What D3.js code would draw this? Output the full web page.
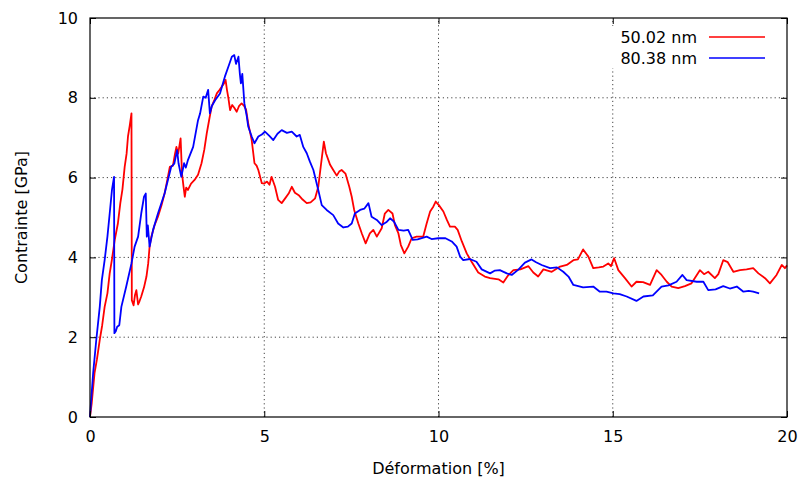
<!DOCTYPE html>
<html>
<head>
<meta charset="utf-8">
<script src="https://cdnjs.cloudflare.com/ajax/libs/d3/7.8.5/d3.min.js"></script>
<style>
    body { margin: 0; background: #fff; }
    svg { display: block; font-family: "DejaVu Sans", sans-serif; }
    .grid line { stroke: #444; stroke-width: 1; stroke-dasharray: 1.2, 3; }
</style>
</head>
<body>
<div id="chart"></div>
<script>
// strain [%] / stress [GPa]
var strain_50 = [0, 0.05, 0.13, 0.2, 0.28, 0.35, 0.42, 0.5, 0.565, 0.63, 0.71, 0.8, 0.87, 0.93, 0.995, 1.05, 1.09, 1.14, 1.19,
    1.2, 1.25, 1.29, 1.33, 1.38, 1.42, 1.47, 1.55, 1.62, 1.67, 1.71, 1.76, 1.85, 1.95, 2.05, 2.14, 2.22, 2.29, 2.38, 2.44, 2.48,
    2.53, 2.6, 2.64, 2.68, 2.72, 2.76, 2.81, 2.9, 3.0, 3.1, 3.2, 3.28, 3.35, 3.42, 3.49, 3.57, 3.64, 3.72, 3.78, 3.84, 3.89,
    3.93, 3.97, 4.02, 4.08, 4.14, 4.21, 4.28, 4.35, 4.42, 4.48, 4.54, 4.64, 4.72, 4.78, 4.83, 4.93, 5.0, 5.08, 5.15, 5.21,
    5.31, 5.4, 5.5, 5.6, 5.7, 5.79, 5.88, 6.0, 6.1, 6.22, 6.33, 6.46, 6.55, 6.62, 6.71, 6.77, 6.89, 6.98, 7.08, 7.15, 7.22,
    7.33, 7.44, 7.51, 7.58, 7.7, 7.8, 7.91, 8.03, 8.13, 8.23, 8.37, 8.46, 8.56, 8.68, 8.75, 8.85, 8.92, 9.02, 9.13, 9.23,
    9.37, 9.56, 9.66, 9.76, 9.85, 9.92, 10.01, 10.14, 10.24, 10.33, 10.47, 10.55, 10.67, 10.81, 10.95, 11.14, 11.33, 11.48,
    11.72, 11.86, 12.0, 12.15, 12.35, 12.58, 12.72, 12.86, 13.01, 13.25, 13.49, 13.68, 13.87, 14.0, 14.15, 14.3, 14.44, 14.6,
    14.73, 14.87, 14.95, 15.04, 15.16, 15.35, 15.54, 15.68, 15.87, 16.07, 16.26, 16.4, 16.55, 16.69, 16.88, 17.07, 17.26,
    17.5, 17.62, 17.74, 17.93, 18.03, 18.17, 18.3, 18.46, 18.65, 18.84, 19.03, 19.18, 19.37, 19.51, 19.7, 19.85, 19.94, 20.0];
var stress_50 = [0, 0.35, 1.1, 1.45, 1.93, 2.3, 2.76, 3.1, 3.6, 3.95, 4.44, 4.85, 5.36, 5.7, 6.27, 6.6, 7.03, 7.3, 7.61,
    2.93, 2.8, 3.05, 3.18, 2.82, 2.9, 3.02, 3.25, 3.52, 3.85, 4.27, 4.52, 4.8, 5.02, 5.3, 5.6, 5.95, 6.27, 6.3, 6.6, 6.77,
    6.6, 6.98, 6.1, 5.8, 5.52, 5.75, 5.69, 5.85, 5.94, 6.07, 6.36, 6.7, 7.11, 7.45, 7.78, 7.95, 8.11, 8.2, 8.28, 8.35, 8.45,
    8.2, 8.0, 7.69, 7.82, 7.75, 7.65, 7.8, 7.86, 7.8, 7.7, 7.36, 6.94, 6.36, 6.3, 6.19, 5.86, 5.85, 5.9, 5.82, 6.02,
    5.77, 5.44, 5.36, 5.48, 5.6, 5.77, 5.62, 5.55, 5.45, 5.36, 5.38, 5.48, 5.77, 6.27, 6.9, 6.61, 6.32, 6.19, 6.05, 6.15, 6.19,
    6.1, 5.77, 5.52, 5.19, 4.85, 4.6, 4.35, 4.6, 4.69, 4.52, 4.73, 5.1, 5.19, 5.1, 4.81, 4.6, 4.31, 4.1, 4.27, 4.48,
    4.52, 4.52, 4.85, 5.15, 5.27, 5.4, 5.31, 5.15, 4.94, 4.77, 4.77, 4.69, 4.4, 4.1, 3.89, 3.62, 3.52, 3.48,
    3.45, 3.37, 3.55, 3.68, 3.7, 3.78, 3.62, 3.52, 3.7, 3.64, 3.77, 3.81, 3.93, 3.95, 4.2, 4.02, 3.73, 3.75,
    3.77, 3.85, 3.78, 3.98, 3.68, 3.48, 3.27, 3.39, 3.38, 3.31, 3.68, 3.56, 3.39, 3.27, 3.23, 3.28, 3.35,
    3.68, 3.58, 3.64, 3.48, 3.58, 3.93, 3.88, 3.64, 3.68, 3.7, 3.73, 3.6, 3.48, 3.35, 3.56, 3.81, 3.73, 3.8];

var strain_80 = [0, 0.04, 0.09, 0.18, 0.28, 0.34, 0.42, 0.5, 0.565, 0.63, 0.69, 0.7, 0.74, 0.78, 0.84, 0.9, 1.04, 1.19,
    1.28, 1.38, 1.47, 1.55, 1.6, 1.63, 1.66, 1.71, 1.81, 1.95, 2.14, 2.33, 2.42, 2.5, 2.54, 2.62, 2.7, 2.75, 2.81, 2.96,
    3.1, 3.16, 3.25, 3.32, 3.39, 3.44, 3.5, 3.59, 3.73, 3.87, 3.97, 4.07, 4.14, 4.19, 4.26, 4.3, 4.33, 4.37, 4.43, 4.5,
    4.54, 4.64, 4.72, 4.83, 4.93, 5.02, 5.14, 5.26, 5.38, 5.5, 5.65, 5.79, 5.93, 6.02, 6.12, 6.22, 6.31, 6.41, 6.48, 6.55,
    6.65, 6.79, 6.98, 7.12, 7.27, 7.4, 7.51, 7.6, 7.75, 7.87, 7.99, 8.08, 8.23, 8.37, 8.5, 8.61, 8.72, 8.85, 9.0, 9.13,
    9.26, 9.4, 9.66, 9.8, 9.99, 10.2, 10.38, 10.52, 10.62, 10.71, 10.9, 11.09, 11.24, 11.48, 11.62, 11.76, 11.96, 12.1,
    12.3, 12.48, 12.67, 12.8, 12.96, 13.2, 13.4, 13.58, 13.73, 13.87, 14.15, 14.44, 14.63, 14.82, 15.02, 15.2, 15.4, 15.68,
    15.88, 16.15, 16.4, 16.6, 16.83, 17.0, 17.12, 17.41, 17.6, 17.74, 17.95, 18.17, 18.36, 18.56, 18.75, 18.9, 19.03, 19.2];
var stress_80 = [0, 0.5, 1.1, 1.93, 2.76, 3.43, 3.93, 4.52, 5.1, 5.69, 6.02, 2.1, 2.15, 2.26, 2.3, 2.76, 3.27, 3.85,
    4.27, 4.52, 5.1, 5.52, 5.6, 4.52, 4.8, 4.27, 4.69, 5.1, 5.6, 6.27, 6.35, 6.69, 6.36, 6.02, 6.36, 6.25, 6.44, 6.77,
    7.44, 7.61, 8.03, 8.0, 8.2, 7.61, 7.8, 7.94, 8.11, 8.53, 8.78, 9.03, 9.07, 8.85, 9.03, 8.6, 8.36, 8.6, 7.86, 7.53,
    7.28, 7.03, 6.86, 7.03, 7.08, 7.15, 7.05, 6.94, 7.1, 7.19, 7.12, 7.15, 7.03, 7.07, 6.77, 6.61, 6.4, 6.19, 5.94, 5.69,
    5.31, 5.19, 5.06, 4.85, 4.75, 4.77, 4.85, 5.1, 5.19, 5.22, 5.36, 5.02, 4.94, 4.81, 4.88, 4.98, 4.9, 4.69, 4.67, 4.69,
    4.44, 4.45, 4.52, 4.46, 4.48, 4.48, 4.4, 4.27, 4.02, 3.93, 3.96, 3.89, 3.7, 3.6, 3.67, 3.68, 3.6, 3.56,
    3.7, 3.87, 3.95, 3.88, 3.81, 3.73, 3.75, 3.64, 3.52, 3.31, 3.25, 3.27, 3.14, 3.14, 3.1, 3.08, 3.02, 2.91,
    3.02, 3.05, 3.27, 3.3, 3.39, 3.56, 3.43, 3.39, 3.39, 3.18, 3.2, 3.28, 3.22, 3.27, 3.14, 3.16, 3.14, 3.1];

var series_names = ["50.02 nm", "80.38 nm"];
var series_colors = ["#ff0000", "#0000ff"];
var x_ticks = [0, 5, 10, 15, 20];
var y_ticks = [0, 2, 4, 6, 8, 10];

function draw_stress_strain() {
    var width = 803;
    var height = 482;
    var margin = { top: 18, right: 16, bottom: 65, left: 90 };

    var series = [
        { name: series_names[0], color: series_colors[0], values: strain_50.map(function(d, i) { return [d, stress_50[i]]; }) },
        { name: series_names[1], color: series_colors[1], values: strain_80.map(function(d, i) { return [d, stress_80[i]]; }) }
    ];

    var x = d3.scaleLinear().domain([0, 20]).range([margin.left, width - margin.right]);
    var y = d3.scaleLinear().domain([0, 10]).range([height - margin.bottom, margin.top]);

    var svg = d3.select("#chart")
        .append("svg")
        .attr("width", width)
        .attr("height", height);

    // dotted grid at inner ticks
    var grid = svg.append("g").attr("class", "grid");
    grid.selectAll("line.gx").data(x_ticks.slice(1, -1)).enter()
        .append("line")
            .attr("class", "gx")
            .attr("x1", function(d) { return x(d); })
            .attr("x2", function(d) { return x(d); })
            .attr("y1", y(0))
            .attr("y2", y(10));
    grid.selectAll("line.gy").data(y_ticks.slice(1, -1)).enter()
        .append("line")
            .attr("class", "gy")
            .attr("x1", x(0))
            .attr("x2", x(20))
            .attr("y1", function(d) { return y(d); })
            .attr("y2", function(d) { return y(d); });

    var line = d3.line()
        .x(function(d) { return x(d[0]); })
        .y(function(d) { return y(d[1]); });

    svg.append("g").attr("class", "curves")
        .selectAll("path").data(series).enter()
        .append("path")
            .attr("d", function(d) { return line(d.values); })
            .attr("fill", "none")
            .attr("stroke", function(d) { return d.color; })
            .attr("stroke-width", 1.8)
            .attr("stroke-linejoin", "round");

    // axes, ticks pointing inside like gnuplot
    var axis_font = function(g) {
        g.select(".domain").remove();
        g.selectAll("text").attr("font-size", 16).attr("font-family", "DejaVu Sans, sans-serif").attr("fill", "#000");
        g.selectAll("line").attr("stroke", "#000");
    };
    svg.append("g")
        .attr("transform", "translate(0," + y(0) + ")")
        .call(d3.axisBottom(x).tickValues(x_ticks).tickFormat(d3.format("d")).tickSizeInner(-6).tickPadding(14))
        .call(axis_font);
    svg.append("g")
        .attr("transform", "translate(" + x(0) + ",0)")
        .call(d3.axisLeft(y).tickValues(y_ticks).tickFormat(d3.format("d")).tickSizeInner(-6).tickPadding(12))
        .call(axis_font);
    svg.append("g")
        .attr("transform", "translate(0," + y(10) + ")")
        .call(d3.axisTop(x).tickValues(x_ticks).tickFormat("").tickSizeInner(-6))
        .call(axis_font);
    svg.append("g")
        .attr("transform", "translate(" + x(20) + ",0)")
        .call(d3.axisRight(y).tickValues(y_ticks).tickFormat("").tickSizeInner(-6))
        .call(axis_font);

    svg.append("rect")
        .attr("x", x(0))
        .attr("y", y(10))
        .attr("width", x(20) - x(0))
        .attr("height", y(0) - y(10))
        .attr("fill", "none")
        .attr("stroke", "#000")
        .attr("stroke-width", 1.2);

    // legend
    var legend = svg.append("g").attr("class", "legend");
    legend.append("rect")
        .attr("x", 603)
        .attr("y", 26)
        .attr("width", 172)
        .attr("height", 42)
        .attr("fill", "#fff");
    var item = legend.selectAll("g.item").data(series).enter()
        .append("g")
            .attr("class", "item")
            .attr("transform", function(d, i) { return "translate(0," + (37 + i * 21) + ")"; });
    item.append("text")
        .attr("x", 697)
        .attr("y", 6)
        .attr("text-anchor", "end")
        .attr("font-size", 16)
        .text(function(d) { return d.name; });
    item.append("line")
        .attr("x1", 709)
        .attr("x2", 765)
        .attr("stroke", function(d) { return d.color; })
        .attr("stroke-width", 1.6);

    svg.append("text")
        .attr("x", (x(0) + x(20)) / 2)
        .attr("y", 474)
        .attr("text-anchor", "middle")
        .attr("font-size", 16)
        .text("Déformation [%]");
    svg.append("text")
        .attr("transform", "translate(27," + (y(0) + y(10)) / 2 + ") rotate(-90)")
        .attr("text-anchor", "middle")
        .attr("font-size", 16)
        .text("Contrainte [GPa]");
}

draw_stress_strain();
</script>
</body>
</html>
